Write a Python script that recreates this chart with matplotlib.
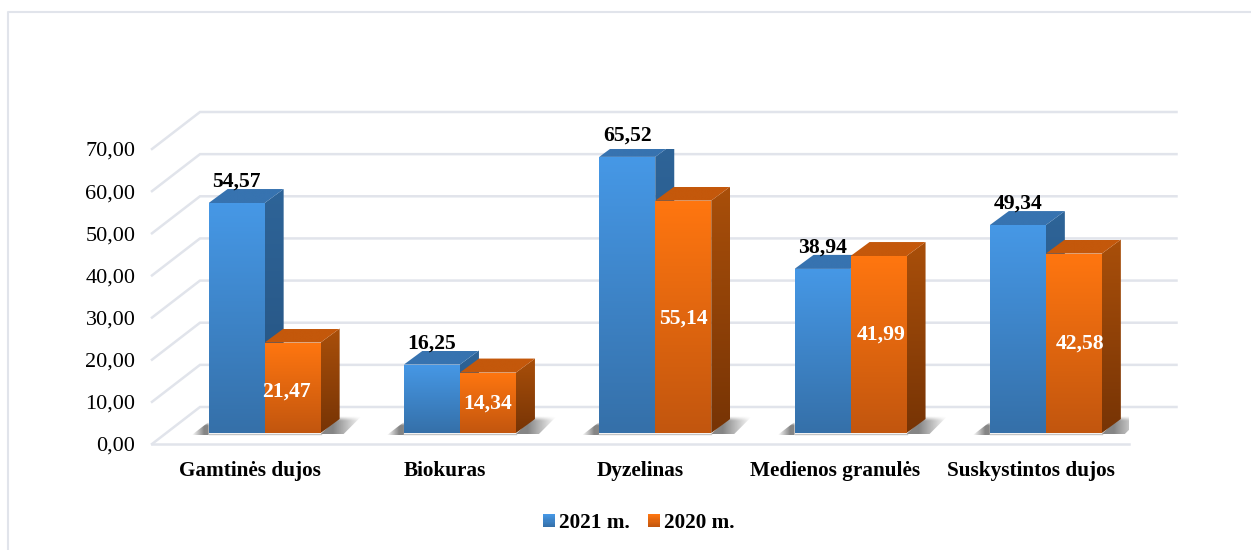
import numpy as np
import matplotlib
matplotlib.use('Agg')
import matplotlib.pyplot as plt
from matplotlib.colors import to_rgb
from matplotlib.legend_handler import HandlerBase
from matplotlib.lines import Line2D
from matplotlib.patches import Patch, Polygon, Rectangle

plt.rcParams['font.family'] = ['Liberation Serif', 'DejaVu Serif']

categories = ['Gamtinės dujos', 'Biokuras', 'Dyzelinas', 'Medienos granulės', 'Suskystintos dujos']
values_2021 = [54.57, 16.25, 65.52, 38.94, 49.34]
values_2020 = [21.47, 14.34, 55.14, 41.99, 42.58]
y_ticks = [0, 10, 20, 30, 40, 50, 60, 70]
y_tick_labels = ['0,00', '10,00', '20,00', '30,00', '40,00', '50,00', '60,00', '70,00']

# hand placed white labels in the orange bars (px from bar centre)
label_nudge_x = [-6, 0, 0, 3, 6]
label_nudge_y = [-4, -1, -2, 10, 0]

W, H = 1251, 550
# front plane of the axes in pixels
LEFT, RIGHT, BOTTOM, TOP = 152, 1128.5, 444, 149
n = len(categories)
ymax = y_ticks[-1]
ux = (RIGHT - LEFT) / n      # px per category
uy = (BOTTOM - TOP) / ymax   # px per value unit


def dx(px):
    return px / ux


def dy(px):
    return px / uy


GRID = '#E1E4EB'
BLUE = {'front': ('#4698E6', '#3570A9'), 'side': ('#2E6498', '#25527F'), 'top': ('#3773B0', '#3773B0')}
ORANGE = {'front': ('#FF7610', '#C2560E'), 'side': ('#A94F0A', '#773405'), 'top': ('#C4580B', '#C4580B')}

fig = plt.figure(figsize=(W / 100, H / 100), dpi=100)
ax = fig.add_axes([LEFT / W, 1 - BOTTOM / H, (RIGHT - LEFT) / W, (BOTTOM - TOP) / H])
ax.set_xlim(0, n)
ax.set_ylim(0, ymax)
for s in ax.spines.values():
    s.set_visible(False)
ax.patch.set_alpha(0)


def grad_poly(verts, top, bottom, z):
    """Polygon filled with a vertical gradient (top colour to bottom colour)."""
    t, b = np.array(to_rgb(top)), np.array(to_rgb(bottom))
    f = np.linspace(0, 1, 64)[:, None, None]
    img = t[None, None, :] * (1 - f) + b[None, None, :] * f
    xs, ys = zip(*verts)
    im = ax.imshow(img, extent=(min(xs), max(xs), min(ys), max(ys)), aspect='auto',
                   origin='upper', zorder=z, interpolation='bilinear')
    poly = Polygon(verts, closed=True, transform=ax.transData, fc='none', ec='none')
    ax.add_patch(poly)
    im.set_clip_path(poly)


def shadow(verts, fade_right, z):
    """Soft grey floor shadow, fading out sideways and along its top edge."""
    across = np.clip(np.linspace(1.4, 0, 64), 0, 1)
    if not fade_right:
        across = across[::-1]
    down = np.clip(np.linspace(0, 4, 32), 0, 1)
    img = np.zeros((32, 64, 4))
    img[..., :3] = 0.32
    img[..., 3] = 0.7 * np.outer(down, across)
    xs, ys = zip(*verts)
    im = ax.imshow(img, extent=(min(xs), max(xs), min(ys), max(ys)), aspect='auto',
                   zorder=z, interpolation='bilinear')
    poly = Polygon(verts, closed=True, transform=ax.transData, fc='none', ec='none')
    ax.add_patch(poly)
    im.set_clip_path(poly)


def bar3d(x0, w, v, col, z):
    base = dy(11)
    x1 = x0 + w
    ddx, ddy = dx(19), dy(14)
    grad_poly([(x1, base), (x1 + ddx, base + ddy), (x1 + ddx, base + v + ddy), (x1, base + v)],
              col['side'][0], col['side'][1], z)
    grad_poly([(x0, base + v), (x1, base + v), (x1 + ddx, base + v + ddy), (x0 + ddx, base + v + ddy)],
              col['top'][0], col['top'][1], z)
    grad_poly([(x0, base), (x1, base), (x1, base + v), (x0, base + v)],
              col['front'][0], col['front'][1], z)


class GradientHandle(HandlerBase):
    """Legend square with the same vertical gradient as the bars."""

    def __init__(self, top, bottom):
        super().__init__()
        self.top, self.bottom = np.array(to_rgb(top)), np.array(to_rgb(bottom))

    def create_artists(self, legend, orig, xd, yd, width, height, fontsize, trans):
        strips = []
        for k in range(12):
            c = self.top + (self.bottom - self.top) * k / 11
            strips.append(Rectangle((-xd, -yd + height * (11 - k) / 12), width, height / 12,
                                    fc=c, ec='none', transform=trans))
        return strips


# gridlines: floor/wall
back_x, back_y = dx(48), dy(37)
for t in y_ticks:
    ax.plot([0, back_x, n + back_x], [t, t + back_y, t + back_y], color=GRID, lw=1.8,
            clip_on=False, zorder=1, solid_joinstyle='miter')
ax.plot([0, n], [0, 0], color=GRID, lw=1.8, clip_on=False, zorder=1)

bar_w = dx(56)
for i in range(n):
    x_blue = i + 0.5 - dx(41)
    x_orange = x_blue + bar_w
    z = 3 + i
    base = dy(11)
    # shadows
    xe = x_orange + bar_w
    shadow([(xe, base - dy(1)), (xe + dx(19), base + dy(17)), (xe + dx(41), base + dy(17)), (xe + dx(23), base - dy(1))],
           True, 2)
    shadow([(x_blue - dx(17), base - dy(2)), (x_blue, base + dy(11)), (x_blue, base - dy(2))], False, 2)
    ax.plot([x_blue, xe], [base - dy(1), base - dy(1)], color='#C4C4C4', lw=1, zorder=2, clip_on=False)
    bar3d(x_blue, bar_w, values_2021[i], BLUE, z)
    bar3d(x_orange, bar_w, values_2020[i], ORANGE, z + 0.1)
    ax.text(x_blue + bar_w / 2, base + values_2021[i] + dy(21), f'{values_2021[i]:.2f}'.replace('.', ','),
            ha='center', va='center', fontsize=15.6, fontweight='bold', color='black', zorder=20)
    ax.text(x_orange + bar_w / 2 + dx(label_nudge_x[i]), base + values_2020[i] / 2 + dy(label_nudge_y[i]),
            f'{values_2020[i]:.2f}'.replace('.', ','),
            ha='center', va='center', fontsize=15.6, fontweight='bold', color='white', zorder=20)

ax.set_xlim(0, n)
ax.set_ylim(0, ymax)
ax.set_yticks(y_ticks)
ax.set_yticklabels(y_tick_labels, fontsize=16, color='black')
ax.set_xticks([i + 0.5 for i in range(n)])
ax.set_xticklabels(categories, fontsize=15.3, fontweight='bold', color='black')
ax.tick_params(axis='y', length=0, pad=12)
ax.tick_params(axis='x', length=0, pad=12.5)

# outer frame, only top and left visible
fig.add_artist(Line2D([8 / W, 8 / W, 1], [0, 1 - 12 / H, 1 - 12 / H], color=GRID, lw=1.5))

h_2021 = Patch(label='2021 m.')
h_2020 = Patch(label='2020 m.')
fig.legend(handles=[h_2021, h_2020], loc='center', bbox_to_anchor=(639 / W, 1 - 523 / H), ncol=2,
           frameon=False, prop={'size': 15.3, 'weight': 'bold'},
           handler_map={h_2021: GradientHandle('#4698E6', '#3570A9'),
                        h_2020: GradientHandle('#FF7610', '#C2560E')},
           handlelength=0.56, handleheight=0.56, handletextpad=0.2, columnspacing=0.85, borderpad=0)

plt.savefig('out.png', dpi=100)
